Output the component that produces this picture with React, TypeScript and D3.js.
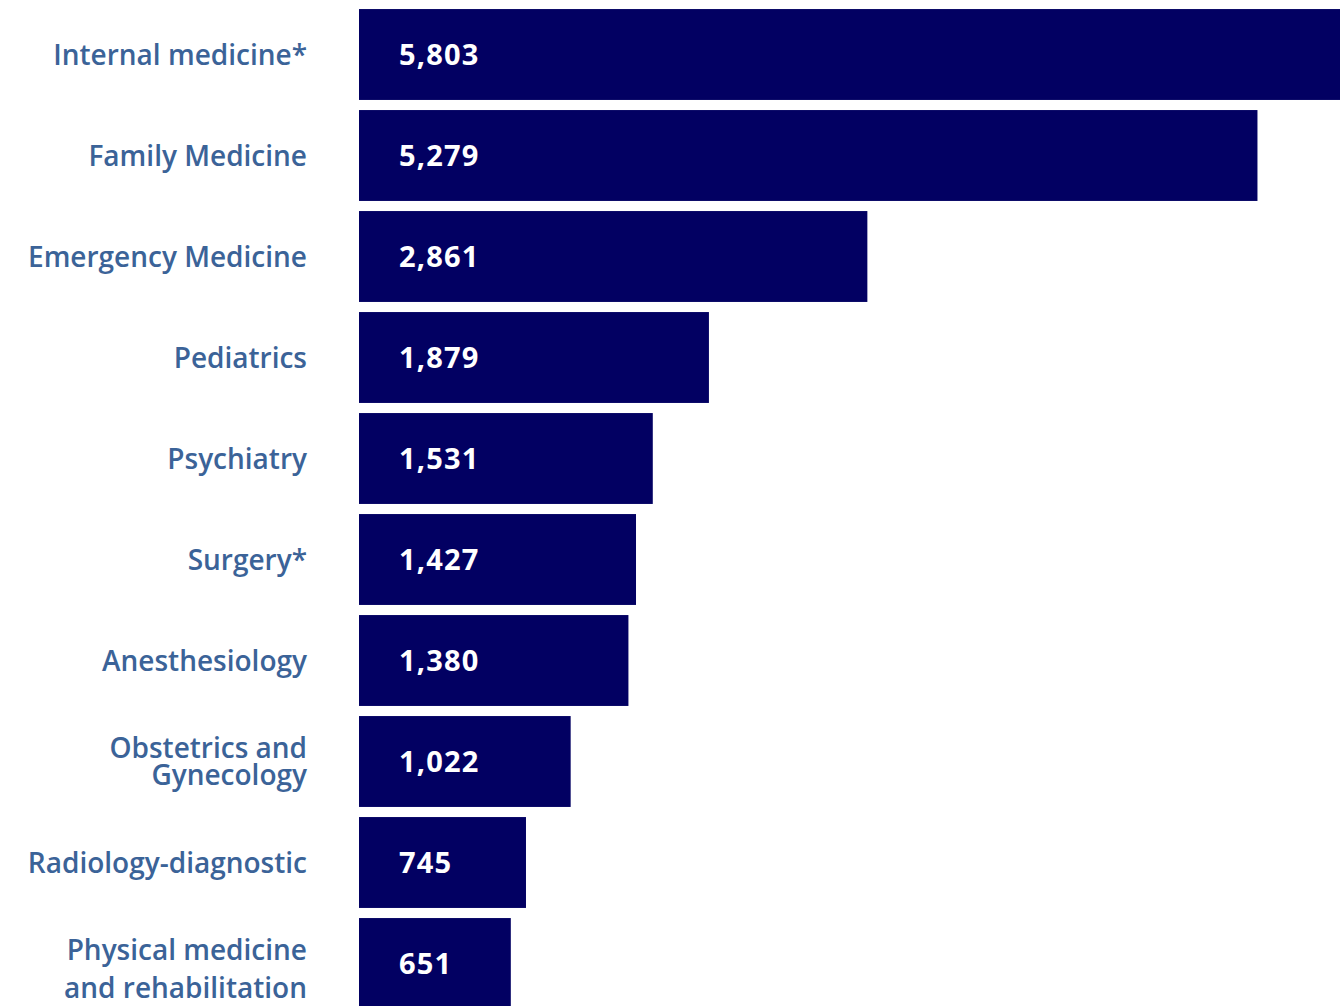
import { useEffect, useRef } from "react"
import * as d3 from "d3"

// specialties, top to bottom
const categories = [
	"Internal medicine*",
	"Family Medicine",
	"Emergency Medicine",
	"Pediatrics",
	"Psychiatry",
	"Surgery*",
	"Anesthesiology",
	"Obstetrics and\nGynecology",
	"Radiology-diagnostic",
	"Physical medicine\nand rehabilitation",
]
const values = [5803, 5279, 2861, 1879, 1531, 1427, 1380, 1022, 745, 651]

const App = () => {
	const svgRef = useRef(null)

	useEffect(() => {
		const svg = d3.select(svgRef.current)
		svg.selectAll("*").remove()

		const width = 1340
		const height = 1006
		const barLeft = 359

		const x = d3.scaleLinear().domain([-290, d3.max(values)!]).range([barLeft, width + 2])
		const y = d3
			.scaleBand()
			.domain(categories)
			.range([4, 1014])
			.paddingInner(0.1)
			.paddingOuter(0.05)

		const data = categories.map((c, i) => ({ c, v: values[i] }))

		svg.attr("width", width).attr("height", height)

		svg.selectAll("rect.bar")
			.data(data)
			.enter()
			.append("rect")
			.attr("class", "bar")
			.attr("x", barLeft)
			.attr("y", d => y(d.c)!)
			.attr("width", d => x(d.v) - barLeft)
			.attr("height", y.bandwidth())
			.attr("fill", "#020062")

		// value labels inside bars
		svg.selectAll("text.val")
			.data(data)
			.enter()
			.append("text")
			.attr("class", "val")
			.attr("x", barLeft + 40)
			.attr("y", d => y(d.c)! + y.bandwidth() / 2)
			.attr("dy", "0.36em")
			.attr("fill", "#ffffff")
			.style("font-family", "'Open Sans', sans-serif")
			.style("font-weight", 700)
			.style("font-size", "29px")
			.style("letter-spacing", "1.2px")
			.text(d => d3.format(",")(d.v))

		// category labels, right aligned
		const lab = svg.selectAll("text.cat")
			.data(data)
			.enter()
			.append("text")
			.attr("class", "cat")
			.attr("text-anchor", "end")
			.attr("fill", "#3b6398")
			.style("font-family", "'Open Sans', sans-serif")
			.style("font-weight", 600)
			.style("font-size", "28px")

		lab.each(function (d) {
			const lines = d.c.split("\n")
			const gap = d.c.startsWith("Physical") ? 38 : 27
			const shift = d.c.startsWith("Physical") ? 5 : 0
			const cy = y(d.c)! + y.bandwidth() / 2 + shift
			lines.forEach((ln, k) => {
				d3.select(this)
					.append("tspan")
					.attr("x", 307)
					.attr("y", cy + (k - (lines.length - 1) / 2) * gap)
					.attr("dy", "0.36em")
					.text(ln)
			})
		})
	}, [])

	return (
		<svg
			ref={svgRef}
			style={{ position: "absolute", left: 0, top: 0, display: "block" }}
		></svg>
	)
}

export default App
